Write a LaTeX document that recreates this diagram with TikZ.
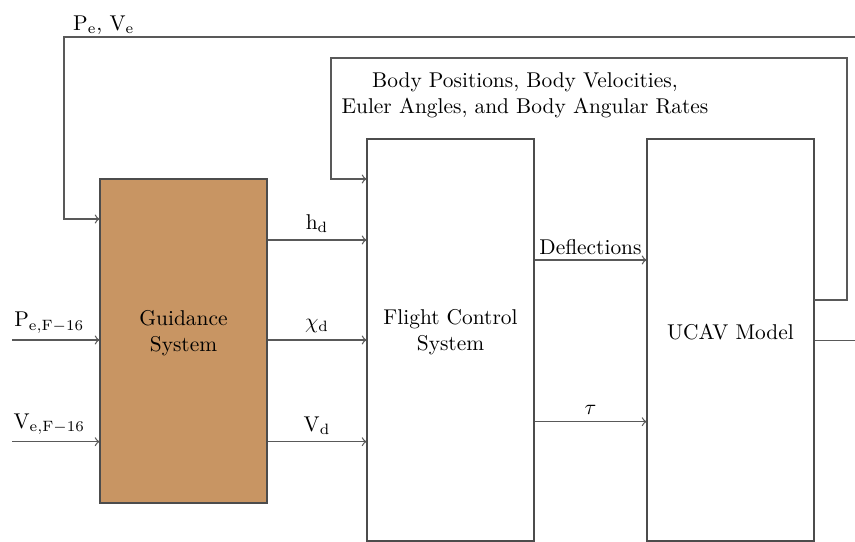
\documentclass[tikz,border=0pt]{standalone}
\usetikzlibrary{fit}
\definecolor{guid}{RGB}{200,149,99}
\begin{document}
\begin{tikzpicture}[x=0.4673pt,y=-0.4673pt,
  blk/.style={draw=black!70,line width=0.5pt,inner sep=0pt,align=center},
  conn/.style={draw=black!65,line width=0.6pt},
  arr/.style={conn,->},
  lbl/.style={above,inner sep=3pt}]
\clip (0,0) rectangle (855,542);
% block corners
\coordinate (g1) at (100,179); \coordinate (g2) at (267,503);
\coordinate (f1) at (367,139); \coordinate (f2) at (534,541);
\coordinate (u1) at (647,139); \coordinate (u2) at (814,541);
\node[blk,fill=guid,fit=(g1)(g2)] (gs) {Guidance\\System};
\node[blk,fit=(f1)(f2)] (fcs) {Flight Control\\System};
\node[blk,fit=(u1)(u2)] (ucav) {UCAV Model};
% free ends
\coordinate (inP) at (12,340);
\coordinate (inV) at (12,441.7);
\coordinate (outE) at (855,340.7);
\coordinate (fbR) at (856,37);
\coordinate (fbL) at (64,37);
\coordinate (fbD) at (64,219);
\coordinate (ibR) at (847,58);
\coordinate (ibL) at (331,58);
\coordinate (ibD) at (331,179);
\coordinate (uo) at (814,300);
% inputs
\draw[arr] (inP) -- node[lbl,xshift=-3pt]{$\mathrm{P_{e,F-16}}$} (gs.west |- inP);
\draw[arr] (inV) -- node[lbl,xshift=-3pt]{$\mathrm{V_{e,F-16}}$} (gs.west |- inV);
% guidance -> fcs
\draw[arr] (gs.east |- 0,240) -- node[lbl]{$\mathrm{h_d}$} (fcs.west |- 0,240);
\draw[arr] (gs.east |- 0,340) -- node[lbl]{$\chi_\mathrm{d}$} (fcs.west |- 0,340);
\draw[arr] (gs.east |- 0,441.7) -- node[lbl]{$\mathrm{V_d}$} (fcs.west |- 0,441.7);
% fcs -> ucav
\draw[arr] (fcs.east |- 0,260) -- node[lbl,inner sep=2pt]{Deflections} (ucav.west |- 0,260);
\draw[arr] (fcs.east |- 0,421.7) -- node[lbl]{$\tau$} (ucav.west |- 0,421.7);
% output
\draw[conn] (ucav.east |- outE) -- (outE);
% outer feedback
\draw[arr] (fbR) -- (fbL) node[above right,inner sep=1pt,xshift=3pt] (pv) {$\mathrm{P_e}$, $\mathrm{V_e}$} -- (fbD) -- (gs.west |- fbD);
% inner feedback
\draw[arr] (uo) -| (ibR) -- (ibL) -- (ibD) -- (fcs.west |- ibD);
\node[align=center] (bl) at (525,95) {Body Positions, Body Velocities,\\Euler Angles, and Body Angular Rates};
\end{tikzpicture}
\end{document}
